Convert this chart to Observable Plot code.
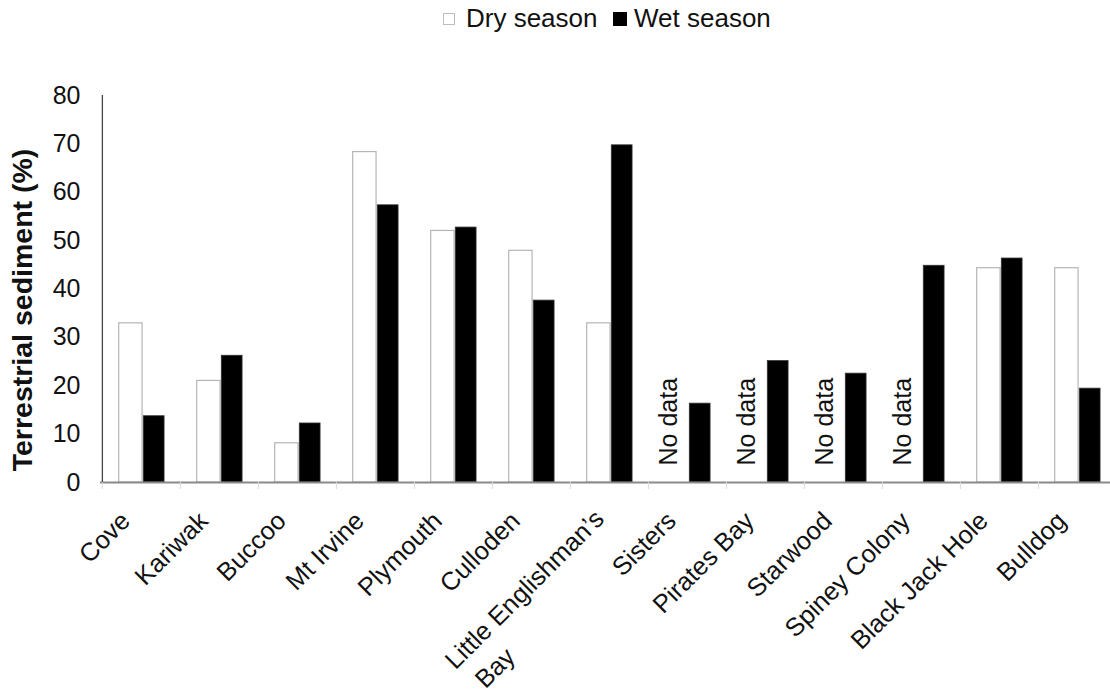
<!DOCTYPE html>
<html>
<head>
<meta charset="utf-8">
<script src="https://cdn.jsdelivr.net/npm/d3@7"></script>
<script src="https://cdn.jsdelivr.net/npm/@observablehq/plot@0.6"></script>
<style>
  html, body { margin: 0; padding: 0; background: #fff; }
  body { width: 1110px; height: 698px; overflow: hidden; font-family: "Liberation Sans", Arial, sans-serif; }
  #legend { position: relative; height: 40px; width: 1110px; }
  #legend .sw { position: absolute; box-sizing: border-box; }
  #legend .lab { position: absolute; font-size: 26px; line-height: 26px; color: #111; white-space: nowrap; }
</style>
</head>
<body>
<div id="legend"></div>
<div id="chart"></div>
<script>
// ---- data ----
const sites = ["Cove", "Kariwak", "Buccoo", "Mt Irvine", "Plymouth", "Culloden",
  "Little Englishman’s Bay", "Sisters", "Pirates Bay", "Starwood", "Spiney Colony",
  "Black Jack Hole", "Bulldog"];
const labelLine1 = ["Cove", "Kariwak", "Buccoo", "Mt Irvine", "Plymouth", "Culloden",
  "Little Englishman’s", "Sisters", "Pirates Bay", "Starwood", "Spiney Colony",
  "Black Jack Hole", "Bulldog"];
const labelLine2 = ["", "", "", "", "", "", "Bay", "", "", "", "", "", ""];
const drySeason = [32.9, 21.0, 8.1, 68.3, 52.0, 47.9, 32.9, null, null, null, null, 44.3, 44.3];
const wetSeason = [13.7, 26.2, 12.2, 57.3, 52.7, 37.6, 69.7, 16.3, 25.1, 22.5, 44.8, 46.3, 19.4];
const yTicks = [0, 10, 20, 30, 40, 50, 60, 70, 80];
const seriesNames = ["Dry season", "Wet season"];
const yTitle = "Terrestrial sediment (%)";
const noDataText = "No data";

// ---- legend ----
const legend = document.getElementById("legend");
legend.innerHTML = `
  <div class="sw" style="left:443px;top:13px;width:12px;height:12px;border:1px solid #bdbdbd;background:#fff"></div>
  <div class="lab" style="left:466px;top:5px">${seriesNames[0]}</div>
  <div class="sw" style="left:613px;top:12px;width:14px;height:14px;background:#000"></div>
  <div class="lab" style="left:634px;top:5px">${seriesNames[1]}</div>`;

// ---- table ----
const rows = sites.map((s, i) => ({site: s, dry: drySeason[i], wet: wetSeason[i], l1: labelLine1[i], l2: labelLine2[i]}));
const dryRows = rows.filter(d => d.dry != null);
const noDataRows = rows.filter(d => d.dry == null);
const singleRows = rows.filter(d => !d.l2);
const multiRows = rows.filter(d => d.l2);

const xRange = [100, 1117];
const bw = (xRange[1] - xRange[0]) / sites.length;
const labelFont = 25.5;

const chart = Plot.plot({
  width: 1110,
  height: 658,
  marginTop: 55,
  marginBottom: 216,
  marginLeft: 100,
  marginRight: 0,
  style: {fontFamily: "'Liberation Sans', Arial, sans-serif", fontSize: "24px", color: "#111", background: "#fff", overflow: "visible"},
  x: {type: "band", domain: sites, range: xRange, padding: 0, axis: null},
  y: {domain: [0, 80], axis: null},
  marks: [
    Plot.barY(dryRows, {x: "site", y: "dry", fill: "#fff", stroke: "#b5b5b5", strokeWidth: 1.2,
      insetLeft: 16.7, insetRight: bw - 40.3}),
    Plot.barY(rows, {x: "site", y: "wet", fill: "#000", stroke: "#333", strokeWidth: 0.8,
      insetLeft: 41.3, insetRight: bw - 62.3}),
    Plot.text(noDataRows, {x: "site", y: d => 0, text: d => noDataText, rotate: -90,
      textAnchor: "start", lineAnchor: "bottom", dx: -11, dy: -17, fontSize: 25, fill: "#111"}),
    Plot.ruleY([0], {stroke: "#8a8a8a", strokeWidth: 2}),
    Plot.ruleX(rows, {x: "site", y1: d => 0, y2: d => 0, dx: -bw / 2, insetBottom: -7, stroke: "#dadada"}),
    Plot.ruleX(rows.slice(0, 1), {x: "site", y1: d => 0, y2: d => 80, dx: -bw / 2, stroke: "#444", strokeWidth: 1.3}),
    Plot.axisY({ticks: yTicks, tickSize: 0, tickPadding: 20, fontSize: 25, label: null, tickFormat: d => String(d)}),
    Plot.text(singleRows, {x: "site", y: d => 0, text: "l1", rotate: -45, textAnchor: "end",
      lineAnchor: "bottom", dx: -10, dy: 40, fontSize: labelFont, fill: "#111"}),
    Plot.text(multiRows, {x: "site", y: d => 0, text: "l1", rotate: -45, textAnchor: "end",
      lineAnchor: "bottom", dx: -4, dy: 38, fontSize: labelFont, fill: "#111"}),
    Plot.text(multiRows, {x: "site", y: d => 0, text: "l2", rotate: -45, textAnchor: "end",
      lineAnchor: "bottom", dx: -93, dy: 176, fontSize: labelFont, fill: "#111"}),
    Plot.text([yTitle], {frameAnchor: "left", rotate: -90, textAnchor: "middle", lineAnchor: "middle",
      dx: -78, dy: 21, fontSize: 28.5, fontWeight: "bold", fill: "#111"})
  ]
});
document.getElementById("chart").appendChild(chart);
</script>
</body>
</html>
